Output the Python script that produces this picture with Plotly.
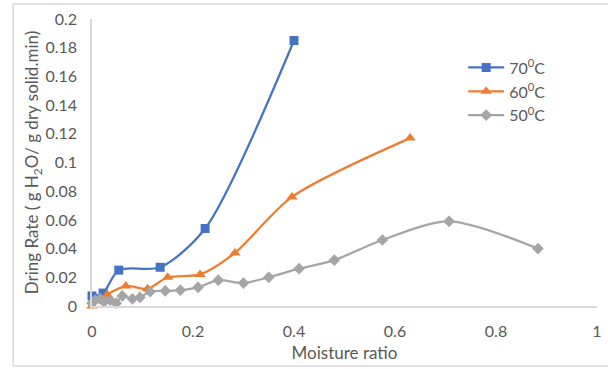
import plotly.graph_objects as go

# Data
x70 = [0.0, 0.022, 0.053, 0.135, 0.224, 0.400]
y70 = [0.007, 0.009, 0.025, 0.027, 0.054, 0.185]

x60 = [0.0, 0.012, 0.030, 0.067, 0.110, 0.150, 0.214, 0.283, 0.396, 0.630]
y60 = [0.000, 0.004, 0.008, 0.014, 0.012, 0.020, 0.022, 0.037, 0.076, 0.117]

x50 = [0.0, 0.006, 0.016, 0.024, 0.036, 0.048, 0.060, 0.080, 0.095, 0.115,
       0.145, 0.175, 0.210, 0.250, 0.300, 0.350, 0.410, 0.480, 0.575, 0.707, 0.883]
y50 = [0.002, 0.004, 0.005, 0.003, 0.004, 0.002, 0.007, 0.005, 0.006, 0.010,
       0.0105, 0.011, 0.013, 0.018, 0.016, 0.020, 0.026, 0.032, 0.046, 0.059, 0.040]

names = ["70<sup>0</sup>C", "60<sup>0</sup>C", "50<sup>0</sup>C"]
colors = ["#4472C4", "#ED7D31", "#A5A5A5"]
symbols = ["square", "triangle-up", "diamond"]
sizes = [9, 10, 9]

x_ticks = [0, 0.2, 0.4, 0.6, 0.8, 1]
y_ticks = [0, 0.02, 0.04, 0.06, 0.08, 0.1, 0.12, 0.14, 0.16, 0.18, 0.2]

fig = go.Figure()
for xs, ys, nm, c, s, sz in zip([x70, x60, x50], [y70, y60, y50], names, colors, symbols, sizes):
    fig.add_trace(go.Scatter(
        x=xs, y=ys, name=nm, mode="lines+markers",
        line=dict(color=c, width=2.25, shape="spline", smoothing=0.8),
        marker=dict(color=c, symbol=s, size=sz),
        cliponaxis=False,
    ))

font_c = "#595959"
fig.update_layout(
    width=608, height=369,
    margin=dict(l=92, r=11, t=19, b=63, autoexpand=False),
    paper_bgcolor="white", plot_bgcolor="white",
    font=dict(family="Lato, Open Sans, sans-serif", size=16, color=font_c),
    showlegend=True,
    legend=dict(x=0.735, y=0.89, xanchor="left", yanchor="top",
                bgcolor="rgba(0,0,0,0)", font=dict(size=16, color=font_c),
                itemwidth=36, tracegroupgap=0),
    xaxis=dict(range=[0, 1], tickvals=x_ticks, ticktext=[str(v) for v in x_ticks],
               showgrid=False, zeroline=False, showline=True, linecolor="#D9D9D9",
               linewidth=1.5, ticks="", ticklabelstandoff=10, automargin=False,
               tickfont=dict(size=16, color=font_c),
               title=dict(text="Moisture ratio", font=dict(size=17, color=font_c), standoff=8)),
    yaxis=dict(range=[0, 0.2], tickvals=y_ticks, ticktext=[str(v) for v in y_ticks],
               showgrid=False, zeroline=False, showline=True, linecolor="#D9D9D9",
               linewidth=1.5, ticks="", ticklabelstandoff=10, automargin=False,
               tickfont=dict(size=16, color=font_c),
               title=dict(text="Dring Rate ( g H<sub>2</sub>O/ g dry solid.min)",
                          font=dict(size=17, color=font_c), standoff=2)),
    shapes=[dict(type="rect", xref="paper", yref="paper",
                 x0=-0.156, x1=1.1, y0=-0.209, y1=1.052,
                 line=dict(color="#D9D9D9", width=1.5), fillcolor="rgba(0,0,0,0)",
                 layer="below")],
)

fig.write_html("out.html")
